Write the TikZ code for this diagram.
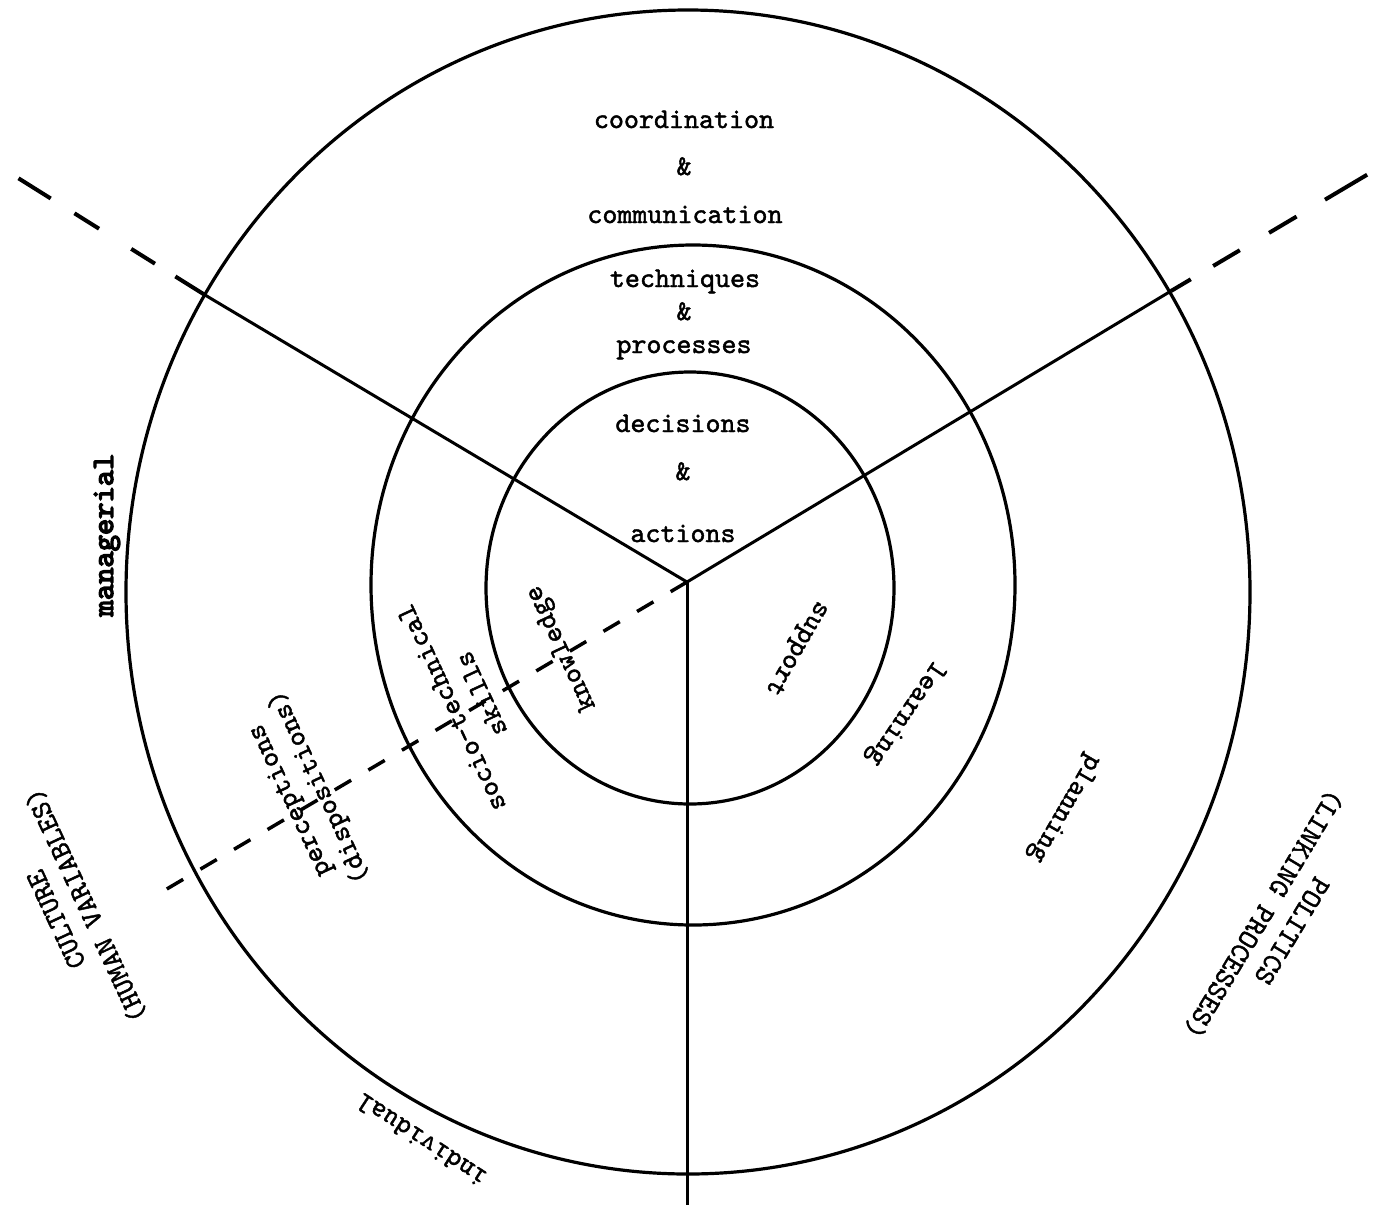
\documentclass[tikz,border=0pt]{standalone}
\font\twf="[lmmono10-regular.otf]:embolden=1.6" at 28.6pt
\font\twb="[lmmono10-regular.otf]:embolden=4.5" at 31pt
\begin{document}
\begin{tikzpicture}[x=1pt,y=-1pt,
  ring/.style={line width=3.2pt},
  ray/.style={line width=3pt},
  extl/.style={line width=4pt, dash pattern=on 35pt off 24pt on 28pt off 38pt on 29pt off 28pt on 38pt off 100pt},
  extr/.style={line width=4pt, dash pattern=on 23pt off 26pt on 31pt off 34pt on 32pt off 33pt on 49pt off 100pt},
  dline/.style={line width=3.5pt, dash pattern=on 19pt off 20pt},
  lbl/.style={font={\twf\baselineskip=33pt}, inner sep=0pt, align=center},
  blbl/.style={font={\twb\baselineskip=33pt}, inner sep=0pt, align=center},
]
\useasboundingbox[fill=white] (0,0) rectangle (1381,1211);

% key points
\coordinate (hub) at (687,582);
\coordinate (ulo) at (205,295);
\coordinate (ule) at (18,178);
\coordinate (uro) at (1171,291);
\coordinate (ure) at (1370,173);
\coordinate (bot) at (687,1205);
\coordinate (lle) at (160,893);

% rings
\draw[ring] (690,588) ellipse [x radius=204pt, y radius=216pt];
\draw[ring] (693,585) ellipse [x radius=322pt, y radius=340pt];
\draw[ring] (688,592) ellipse [x radius=562pt, y radius=582pt];

% rays
\draw[ray] (hub) -- (ulo);
\draw[ray] (hub) -- (uro);
\draw[ray] (hub) -- (bot);
\draw[extl] (ulo) -- (ule);
\draw[extr] (uro) -- (ure);
\draw[dline] (hub) -- (lle);

% top sector
\node[lbl, anchor=base] (coord) at (684,128) {coordination};
\node[lbl, anchor=base] (amp1) at (684,175) {\&};
\node[lbl, anchor=base] (comm) at (685,223) {communication};
\node[lbl, anchor=base] (tech) at (685,287) {techniques};
\node[lbl, anchor=base] (amp2) at (684,320) {\&};
\node[lbl, anchor=base] (proc) at (684,353) {processes};
\node[lbl, anchor=base] (deci) at (683,432) {decisions};
\node[lbl, anchor=base] (amp3) at (683,480) {\&};
\node[lbl, anchor=base] (acti) at (683,542) {actions};

% left sector
\node[blbl, rotate=90] (mgr) at (107,535) {managerial};
\node[lbl, rotate=115] (know) at (562,648) {knowledge};
\node[lbl, rotate=115] (socio) at (466,701) {socio-technical\\skills};
\node[lbl, rotate=115] (perc) at (306,793) {perceptions\\(dispositions)};
\node[lbl, rotate=115] (cult) at (72,912) {CULTURE\\(HUMAN VARIABLES)};
\node[lbl, rotate=147] (indiv) at (421,1140) {individual};

% right sector
\node[lbl, rotate=-120] (supp) at (796,648) {support};
\node[lbl, rotate=-124] (lear) at (905,713) {learning};
\node[lbl, rotate=-120] (plan) at (1064,808) {planning};
\node[lbl, rotate=-121] (poli) at (1277,922) {POLITICS\\(LINKING PROCESSES)};
\end{tikzpicture}
\end{document}
